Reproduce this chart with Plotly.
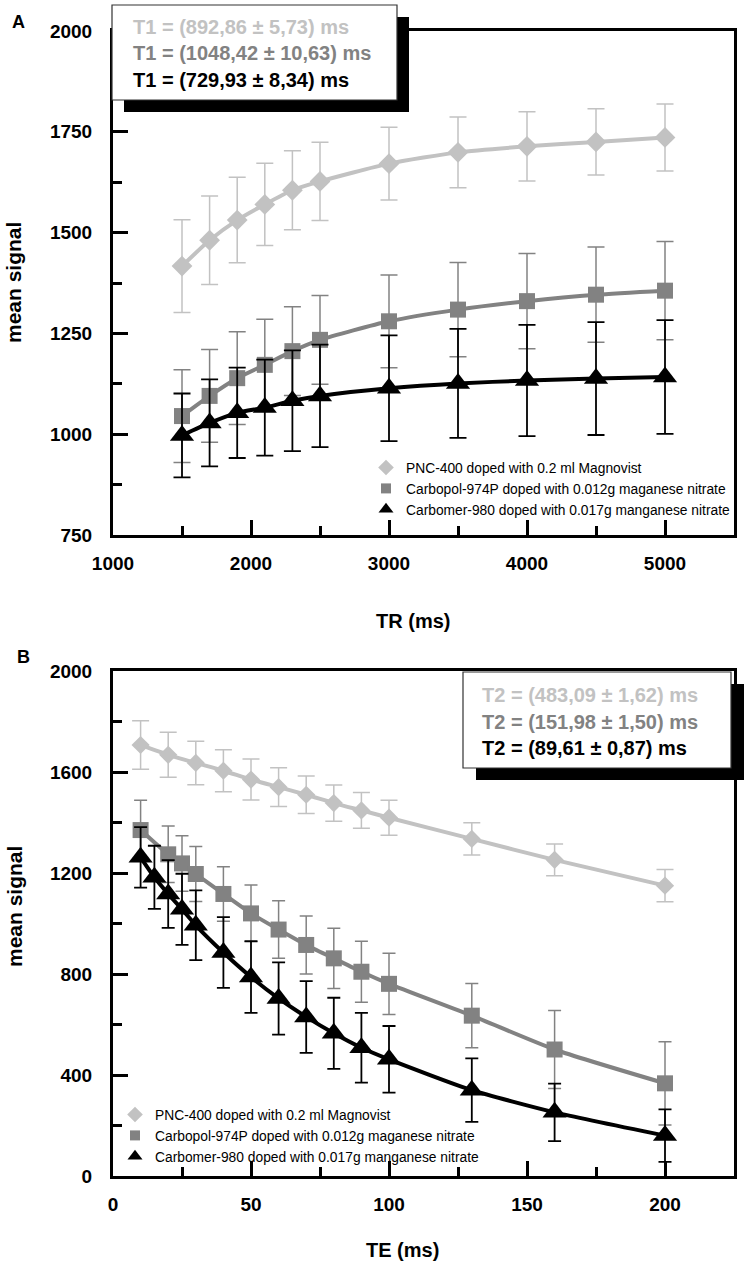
import plotly.graph_objects as go

# ---------------- data ----------------
TR = [1500, 1700, 1900, 2100, 2300, 2500, 3000, 3500, 4000, 4500, 5000]
pnc_T1 = [1417, 1481, 1531, 1570, 1605, 1627, 1671, 1699, 1714, 1725, 1736]
pnc_T1_err = [115, 110, 106, 102, 98, 97, 90, 88, 86, 82, 83]
carbopol_T1 = [1045, 1095, 1139, 1172, 1206, 1234, 1280, 1309, 1330, 1346, 1356]
carbopol_T1_err = [115, 115, 115, 113, 110, 110, 115, 117, 118, 118, 122]
carbomer_T1 = [997, 1028, 1053, 1066, 1083, 1095, 1114, 1126, 1133, 1138, 1142]
carbomer_T1_err = [104, 108, 112, 119, 125, 127, 131, 135, 138, 140, 141]

TE_pnc = [10, 20, 30, 40, 50, 60, 70, 80, 90, 100, 130, 160, 200]
pnc_T2 = [1707, 1668, 1636, 1605, 1570, 1540, 1510, 1477, 1448, 1419, 1335, 1252, 1150]
pnc_T2_err = [96, 89, 86, 83, 81, 77, 74, 72, 71, 69, 64, 63, 64]
TE_carbopol = [10, 20, 25, 30, 40, 50, 60, 70, 80, 90, 100, 130, 160, 200]
carbopol_T2 = [1370, 1274, 1238, 1196, 1117, 1040, 976, 915, 862, 809, 761, 635, 501, 367]
carbopol_T2_err = [118, 112, 110, 109, 108, 112, 114, 115, 119, 121, 121, 127, 154, 165]
TE_carbomer = [10, 15, 20, 25, 30, 40, 50, 60, 70, 80, 90, 100, 130, 160, 200]
carbomer_T2 = [1262, 1183, 1117, 1056, 993, 885, 788, 703, 630, 565, 508, 462, 340, 252, 160]
carbomer_T2_err = [120, 125, 134, 141, 138, 140, 142, 143, 142, 141, 138, 132, 126, 114, 104]

series_names = ["PNC-400 doped with 0.2 ml Magnovist",
                "Carbopol-974P doped with 0.012g maganese nitrate",
                "Carbomer-980 doped with 0.017g manganese nitrate"]
T1_labels = ["T1 = (892,86 ± 5,73) ms", "T1 = (1048,42 ± 10,63) ms", "T1 = (729,93 ± 8,34) ms"]
T2_labels = ["T2 = (483,09 ± 1,62) ms", "T2 = (151,98 ± 1,50) ms", "T2 = (89,61 ± 0,87) ms"]

# ---------------- styling ----------------
W, H = 747, 1267
FONT = "Liberation Sans, Arial, sans-serif"
C_LIGHT, C_MID, C_DARK = "#c2c2c2", "#828282", "#000000"
colors = [C_LIGHT, C_MID, C_DARK]
symbols = ["diamond", "square", "triangle-up"]


def px(x):
    return x / W


def py(y):
    return 1 - y / H


fig = go.Figure()


def add_series(x, y, err, color, symbol, size, cap, xa, ya, lw=4, eth=1.5):
    fig.add_trace(go.Scatter(
        x=x, y=y, mode="lines+markers", showlegend=False,
        xaxis=xa, yaxis=ya,
        line=dict(color=color, width=lw, shape="spline", smoothing=0.6),
        marker=dict(symbol=symbol, size=size, color=color, line=dict(width=0)),
        error_y=dict(type="data", array=err, visible=True, color=color,
                     thickness=eth, width=cap),
    ))


# panel A
add_series(TR, pnc_T1, pnc_T1_err, C_LIGHT, "diamond", 16, 8.5, "x", "y")
add_series(TR, carbopol_T1, carbopol_T1_err, C_MID, "square", 16, 8.5, "x", "y")
add_series(TR, carbomer_T1, carbomer_T1_err, C_DARK, "triangle-up", 21, 8.5, "x", "y", eth=1.8)
# panel B
add_series(TE_pnc, pnc_T2, pnc_T2_err, C_LIGHT, "diamond", 14, 8.5, "x2", "y2")
add_series(TE_carbopol, carbopol_T2, carbopol_T2_err, C_MID, "square", 16, 6.5, "x2", "y2")
add_series(TE_carbomer, carbomer_T2, carbomer_T2_err, C_DARK, "triangle-up", 21, 6.5, "x2", "y2", eth=1.8)

# legend entries (marker only)
leg_sizes = [12, 10, 13]
for lg, xa, ya in [("legend", "x", "y"), ("legend2", "x2", "y2")]:
    for name, c, s, sz in zip(series_names, colors, symbols, leg_sizes):
        fig.add_trace(go.Scatter(x=[None], y=[None], mode="markers", name=name,
                                 marker=dict(symbol=s, size=sz, color=c),
                                 xaxis=xa, yaxis=ya, legend=lg))

axis_common = dict(showline=True, linecolor="black", linewidth=3, mirror=True,
                   showgrid=False, zeroline=False, ticks="inside", ticklen=15,
                   tickwidth=3, tickcolor="black", automargin=False,
                   tickfont=dict(family=FONT, size=19, color="black", weight="bold"))

dom_x = [px(113), px(734)]
fig.update_layout(
    width=W, height=H, margin=dict(l=0, r=0, t=0, b=0, autoexpand=False),
    paper_bgcolor="white", plot_bgcolor="white",
    xaxis=dict(domain=dom_x, range=[1000, 5500], dtick=1000, anchor="y",
               minor=dict(dtick=500, ticks="inside", ticklen=9, tickwidth=3, tickcolor="black"),
               ticklabelstandoff=9, **axis_common),
    yaxis=dict(domain=[py(535), py(31)], range=[750, 2000], dtick=250, anchor="x",
               minor=dict(dtick=125, ticks="inside", ticklen=9, tickwidth=3, tickcolor="black"),
               ticklabelstandoff=14, **axis_common),
    xaxis2=dict(domain=dom_x, range=[0, 225], dtick=50, anchor="y2",
                minor=dict(dtick=25, ticks="inside", ticklen=9, tickwidth=3, tickcolor="black"),
                ticklabelstandoff=9, **axis_common),
    yaxis2=dict(domain=[py(1176), py(671)], range=[0, 2000], dtick=400, anchor="x2",
                minor=dict(dtick=200, ticks="inside", ticklen=9, tickwidth=3, tickcolor="black"),
                ticklabelstandoff=14, **axis_common),
    legend=dict(x=px(366), y=py(452), xanchor="left", yanchor="top",
                bgcolor="rgba(0,0,0,0)", borderwidth=0,
                font=dict(family=FONT, size=13.8, color="black")),
    legend2=dict(x=px(115), y=py(1099), xanchor="left", yanchor="top",
                 bgcolor="rgba(0,0,0,0)", borderwidth=0,
                 font=dict(family=FONT, size=13.8, color="black")),
)

# ---------------- boxes with shadow ----------------
shapes = []
annotations = []


def add_box(x0, y0, x1, y1, dx, dy, lines, ys, tx):
    shapes.append(dict(type="rect", xref="paper", yref="paper", layer="above",
                       x0=px(x0 + dx), x1=px(x1 + dx), y0=py(y1 + dy), y1=py(y0 + dy),
                       fillcolor="black", line=dict(width=0)))
    shapes.append(dict(type="rect", xref="paper", yref="paper", layer="above",
                       x0=px(x0), x1=px(x1), y0=py(y1), y1=py(y0),
                       fillcolor="white", line=dict(color="#333333", width=1.2)))
    for t, yy, c in zip(lines, ys, colors):
        annotations.append(dict(text=t, xref="paper", yref="paper", x=px(tx), y=py(yy),
                                xanchor="left", yanchor="middle", showarrow=False,
                                font=dict(family=FONT, size=20, color=c, weight="bold")))


add_box(112, 5, 397, 100, 12, 12, T1_labels, [27, 53, 80], 131)
add_box(463, 672, 731, 768, 13, 12, T2_labels, [695, 722, 748], 480)


def text(t, x, y, size, angle=0):
    annotations.append(dict(text=t, xref="paper", yref="paper", x=px(x), y=py(y),
                            xanchor="center", yanchor="middle", showarrow=False,
                            textangle=angle,
                            font=dict(family=FONT, size=size, color="black", weight="bold")))


text("A", 18, 22, 18)
text("B", 23, 657, 18)
text("mean signal", 14, 283, 21, -90)
text("mean signal", 14, 907, 21, -90)
text("TR (ms)", 413, 621, 20)
text("TE (ms)", 402, 1250, 20)

fig.update_layout(shapes=shapes, annotations=annotations)
fig.write_html("out.html", config={"displayModeBar": False},
               post_script="document.body.style.margin='0';document.body.style.overflow='hidden';")
